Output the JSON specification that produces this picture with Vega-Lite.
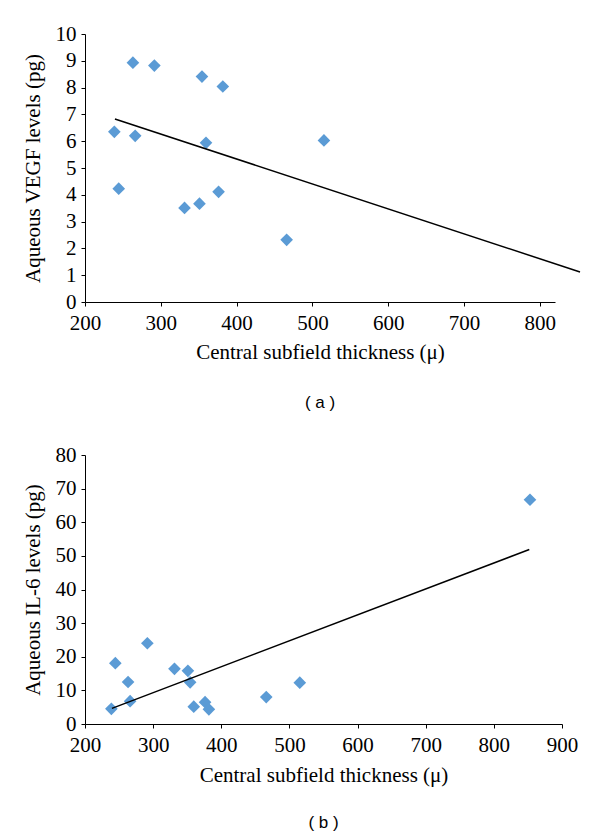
{
  "$schema": "https://vega.github.io/schema/vega-lite/v6.json",
  "padding": {"left": 22, "top": 23, "right": 5, "bottom": 5},
  "background": "white",
  "spacing": 33,
  "config": {
    "view": {"stroke": null},
    "font": "Liberation Serif",
    "axis": {
      "domainColor": "black",
      "tickColor": "black",
      "labelColor": "black",
      "titleColor": "black",
      "labelFont": "Liberation Serif",
      "titleFont": "Liberation Serif",
      "labelFontSize": 21,
      "titleFontSize": 21,
      "titleFontWeight": "normal",
      "grid": false,
      "tickSize": 4,
      "domainWidth": 1,
      "tickWidth": 1,
      "labelOverlap": false,
      "labelSeparation": 0
    },
    "axisX": {"labelPadding": 6, "titlePadding": 8, "labelFlush": false},
    "axisY": {"labelPadding": 5, "titlePadding": 12}
  },
  "datasets": {
    "pts": [
      {"cst": 238.7, "vegf": 6.35, "il6": 4.5},
      {"cst": 244.5, "vegf": 4.23, "il6": 18.1},
      {"cst": 263.2, "vegf": 8.93, "il6": 12.5},
      {"cst": 266.2, "vegf": 6.2, "il6": 6.8},
      {"cst": 291.5, "vegf": 8.82, "il6": 24.0},
      {"cst": 331.3, "vegf": 3.51, "il6": 16.4},
      {"cst": 351.0, "vegf": 3.67, "il6": 15.8},
      {"cst": 354.3, "vegf": 8.41, "il6": 12.4},
      {"cst": 359.6, "vegf": 5.94, "il6": 5.15},
      {"cst": 376.2, "vegf": 4.11, "il6": 6.5},
      {"cst": 381.8, "vegf": 8.04, "il6": 4.36},
      {"cst": 466.0, "vegf": 2.32, "il6": 8.0},
      {"cst": 515.2, "vegf": 6.03, "il6": 12.3},
      {"cst": 853.0, "vegf": null, "il6": 66.7}
    ],
    "fitA": [{"cst": 239.5, "vegf": 6.83}, {"cst": 853.0, "vegf": 1.12}],
    "fitB": [{"cst": 239.5, "il6": 4.66}, {"cst": 852.0, "il6": 51.9}]
  },
  "vconcat": [
    {
      "width": 470,
      "height": 268,
      "title": {"text": "( a )", "orient": "bottom", "font": "Liberation Sans", "fontSize": 17, "fontWeight": "normal", "color": "black", "offset": 33, "anchor": "middle", "frame": "group"},
      "encoding": {
        "x": {"field": "cst", "type": "quantitative", "scale": {"domain": [200, 820], "nice": false, "zero": false},
              "axis": {"values": [200, 300, 400, 500, 600, 700, 800], "title": "Central subfield thickness (μ)"}},
        "y": {"field": "vegf", "type": "quantitative", "scale": {"domain": [0, 10], "nice": false},
              "axis": {"values": [0, 1, 2, 3, 4, 5, 6, 7, 8, 9, 10], "labelOverlap": false, "title": "Aqueous VEGF levels (pg)"}}
      },
      "layer": [
        {
          "data": {"name": "pts"},
          "transform": [{"filter": "datum.vegf != null"}],
          "mark": {"type": "point", "shape": "diamond", "filled": true, "size": 160, "color": "#5B9BD5", "opacity": 1}
        },
        {
          "data": {"name": "fitA"},
          "mark": {"type": "line", "color": "black", "strokeWidth": 1.5, "clip": false}
        }
      ]
    },
    {
      "width": 477,
      "height": 269,
      "title": {"text": "( b )", "orient": "bottom", "font": "Liberation Sans", "fontSize": 17, "fontWeight": "normal", "color": "black", "offset": 30, "anchor": "middle", "frame": "group"},
      "encoding": {
        "x": {"field": "cst", "type": "quantitative", "scale": {"domain": [200, 900], "nice": false, "zero": false},
              "axis": {"values": [200, 300, 400, 500, 600, 700, 800, 900], "labelPadding": 6, "titlePadding": 9, "title": "Central subfield thickness (μ)"}},
        "y": {"field": "il6", "type": "quantitative", "scale": {"domain": [0, 80], "nice": false},
              "axis": {"values": [0, 10, 20, 30, 40, 50, 60, 70, 80], "labelOverlap": false, "title": "Aqueous IL-6 levels (pg)"}}
      },
      "layer": [
        {
          "data": {"name": "pts"},
          "mark": {"type": "point", "shape": "diamond", "filled": true, "size": 160, "color": "#5B9BD5", "opacity": 1}
        },
        {
          "data": {"name": "fitB"},
          "mark": {"type": "line", "color": "black", "strokeWidth": 1.5}
        }
      ]
    }
  ]
}
